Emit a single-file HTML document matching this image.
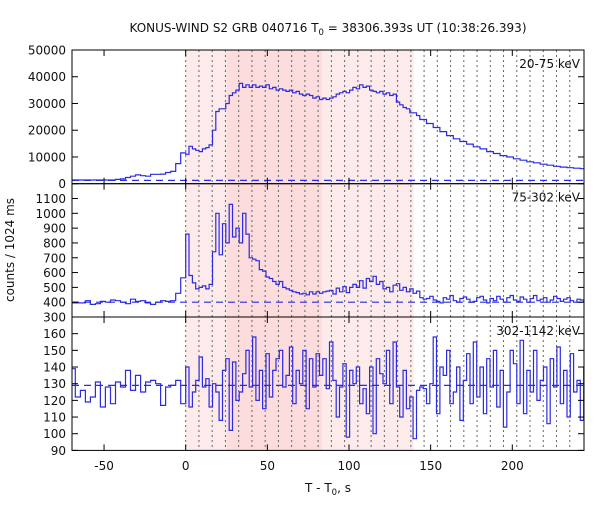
<!DOCTYPE html>
<html><head><meta charset="utf-8">
<style>
body{margin:0;background:#fff;}
svg text{font-family:"DejaVu Sans","Liberation Sans",sans-serif;fill:#111;}
</style></head>
<body>
<svg id="chart" width="600" height="500" viewBox="0 0 600 500" xmlns="http://www.w3.org/2000/svg">
<text x="328" y="32" text-anchor="middle" font-size="12">KONUS-WIND S2 GRB 040716 T<tspan font-size="8.5" dy="3">0</tspan><tspan dy="-3"> = 38306.393s UT (10:38:26.393)</tspan></text>
<text transform="translate(14,250) rotate(-90)" text-anchor="middle" font-size="12">counts / 1024 ms</text>
<text x="328" y="492" text-anchor="middle" font-size="12">T - T<tspan font-size="8.5" dy="3">0</tspan><tspan dy="-3">, s</tspan></text>
<g id="layer"></g>
</svg>
<script>
// ---- data ----
const preStart = -70.656, preStep = 3.072, fineStep = 2.048;
const xTicks = [-50, 0, 50, 100, 150, 200];
const shadeLight = [0, 139.6];
const shadeDark = [25.1, 83.5];
const dottedStep = 8.11;
const dottedCount = 30;

const topTicks = [0, 10000, 20000, 30000, 40000, 50000];
const topBg = 1250;
const topPre = [1400,1400,1400,1400,1400,1400,1400,1400,1400,1600,1800,2300,2800,3300,3000,2800,3500,3500,3600,4200,4600,7500,11500];
const topFine = [11000,14000,13000,12500,12000,13000,13500,14500,20000,27000,28000,28000,30000,33000,34000,35000,37500,36000,37000,36000,37000,36000,36500,36000,37000,35500,36000,35000,35500,35000,34500,35000,34000,34500,33500,33000,33500,33000,32000,32500,31500,32000,31500,32000,32500,33500,34000,34500,34000,35000,36000,35500,37000,36000,36500,35000,34500,34000,34500,33500,34000,33000,33500,30500,29500,28500,28000,26500,26500,25500];
const topCoarse = [24000,22500,21000,19500,18000,16800,15800,14800,13800,13000,12000,11300,10500,10000,9300,8800,8200,7800,7300,6900,6500,6200,6000,5800,5600,5500];

const midTicks = [300,400,500,600,700,800,900,1000,1100];
const midBg = 400;
const midPre = [395,395,395,410,385,390,405,400,415,410,400,390,420,405,410,395,385,400,410,405,410,460,565];
const midFine = [860,580,530,490,500,510,490,520,740,1000,720,930,800,1060,840,900,800,1000,860,700,690,680,620,610,570,560,540,520,540,500,490,480,470,465,455,460,450,470,455,470,460,470,475,480,455,495,470,505,465,500,520,500,545,495,560,540,575,520,540,490,500,470,515,525,480,500,470,490,460,475];
const midLate = [430,420,425,440,415,405,395,430,420,445,410,400,425,435,420,400,405,430,440,415,395,425,410,440,420,400,430,445,415,405,435,420,400,425,445,410,420,430,400,415,440,425,405,420,430,410,400,420,415,405,410,415];

const botTicks = [90,100,110,120,130,140,150,160];
const botBg = 129;
const botPre = [139,122,126,119,122,131,116,128,118,131,128,138,126,135,125,131,132,130,117,128,129,132,118];
const botFine = [140,116,125,132,146,128,133,116,130,125,108,138,145,102,143,120,125,136,150,128,158,120,138,115,148,122,138,145,150,128,135,152,118,138,130,150,115,145,128,148,135,145,127,155,132,110,128,142,98,138,130,140,118,127,112,140,100,145,136,130,150,118,155,128,110,138,115,122,97,126];
const botLate = [128,127,118,130,158,112,140,135,150,118,125,140,108,132,148,118,155,122,140,112,145,128,150,116,138,104,125,150,142,118,156,112,138,125,150,120,132,140,106,145,128,152,118,138,110,148,125,132,108,140,122,125];

// ---- layout ----
const L = 72, R = 584, T0x = 185.7, PXS = 1.633;
const X = t => T0x + t * PXS;
const panels = [
  {name:'top', y0:50, y1:183.7, vmin:0, vmax:50000, ticks:topTicks, bg:topBg, pre:topPre, fine:topFine, late:topCoarse, lateStep:4.096, label:'20-75 keV'},
  {name:'middle', y0:183.7, y1:317, vmin:300, vmax:1200, ticks:midTicks, bg:midBg, pre:midPre, fine:midFine, late:midLate, lateStep:2.048, label:'75-302 keV'},
  {name:'bottom', y0:317, y1:450.4, vmin:90, vmax:170, ticks:botTicks, bg:botBg, pre:botPre, fine:botFine, late:botLate, lateStep:2.048, label:'302-1142 keV'}
];
const NS = 'http://www.w3.org/2000/svg';
const layer = document.getElementById('layer');
function mk(tag, attrs, parent){
  const e = document.createElementNS(NS, tag);
  for (const k in attrs) e.setAttribute(k, attrs[k]);
  (parent||layer).appendChild(e);
  return e;
}
const defs = mk('defs', {});
const cp = mk('clipPath', {id:'plotclip'}, defs);
mk('rect', {x:L, y:50, width:R-L, height:400.4}, cp);

let e = mk('rect', {x:X(shadeLight[0]), y:50, width:X(shadeLight[1])-X(shadeLight[0]), height:400.4, fill:'#fdeaea'});


e = mk('rect', {x:X(shadeDark[0]), y:50, width:X(shadeDark[1])-X(shadeDark[0]), height:400.4, fill:'#fcdcdc'});



for (let k = 0; k < dottedCount; k++) {
  const x = X(k * dottedStep);
  if (x > R) break;
  e = mk('line', {x1:x, x2:x, y1:50, y2:450.4, stroke:'#666', 'stroke-width':1, 'stroke-dasharray':'2,3'});
  
  
}

panels.forEach(p => {
  const Y = v => p.y1 - (v - p.vmin) / (p.vmax - p.vmin) * (p.y1 - p.y0);
  e = mk('line', {x1:L, x2:R, y1:Y(p.bg), y2:Y(p.bg), stroke:'#2b2be0', 'stroke-width':1.2, 'stroke-dasharray':'7,5'});
  
  
  const edges = [], vals = [];
  let t = preStart;
  p.pre.forEach(v => { edges.push(t); vals.push(v); t += preStep; });
  t = 0;
  p.fine.forEach(v => { edges.push(t); vals.push(v); t += fineStep; });
  p.late.forEach(v => { edges.push(t); vals.push(v); t += p.lateStep; });
  edges.push(t);
  let d = 'M' + X(edges[0]).toFixed(1) + ',' + Y(vals[0]).toFixed(1);
  for (let i = 0; i < vals.length; i++) {
    if (i > 0) d += 'V' + Y(vals[i]).toFixed(1);
    d += 'H' + X(edges[i+1]).toFixed(1);
  }
  e = mk('path', {d:d, fill:'none', stroke:'#2b2be0', 'stroke-width':1.2, 'clip-path':'url(#plotclip)'});
  
  
  e = mk('rect', {x:L, y:p.y0, width:R-L, height:p.y1-p.y0, fill:'none', stroke:'#000', 'stroke-width':1});
  
  
  p.ticks.forEach(v => {
    const y = Y(v);
    mk('line', {x1:L, x2:L+6, y1:y, y2:y, stroke:'#000'});
    mk('line', {x1:R-6, x2:R, y1:y, y2:y, stroke:'#000'});
    e = mk('text', {x:L-6, y:y+4.5, 'text-anchor':'end', 'font-size':'12'});
    e.textContent = v;
    
    
  });
  xTicks.forEach(tv => {
    const x = X(tv);
    mk('line', {x1:x, x2:x, y1:p.y0, y2:p.y0+6, stroke:'#000'});
    mk('line', {x1:x, x2:x, y1:p.y1-6, y2:p.y1, stroke:'#000'});
  });
  e = mk('text', {x:R-4, y:p.y0+18, 'text-anchor':'end', 'font-size':'12'});
  e.textContent = p.label;
  
  
});
xTicks.forEach(tv => {
  e = mk('text', {x:X(tv), y:470, 'text-anchor':'middle', 'font-size':'12'});
  e.textContent = tv;
  
  
});
</script>
</body></html>
